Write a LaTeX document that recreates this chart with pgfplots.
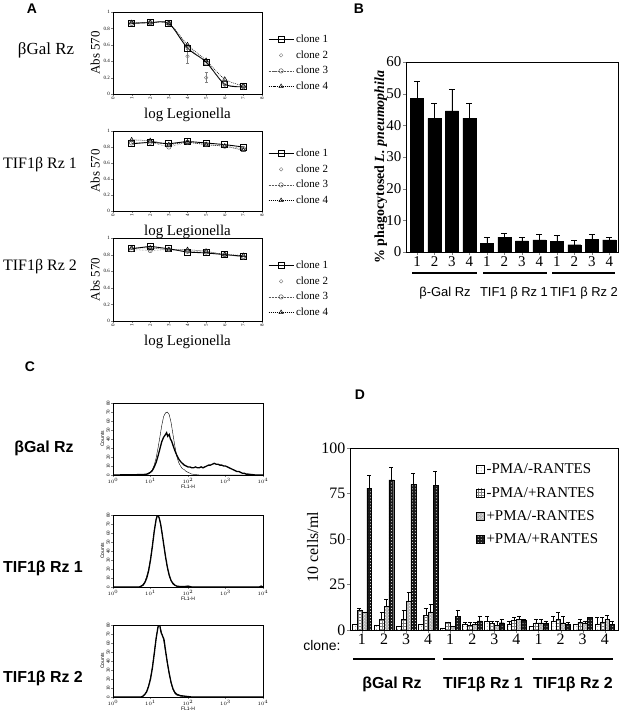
\documentclass[border=0pt]{standalone}
\usepackage{fontspec}
\setmainfont{Liberation Serif}
\setsansfont{Liberation Sans}
\usepackage{pgfplots}
\pgfplotsset{compat=1.18}
\usetikzlibrary{patterns}
\newcommand{\fs}[1]{\fontsize{#1}{#1}\selectfont}

\pgfplotsset{
 panelA/.style={
  scale only axis, width=149bp,
  xmin=0, xmax=8, ymin=0, ymax=1,
  xtick={0,1,2,3,4,5,6,7,8}, ytick={0,0.2,0.4,0.6,0.8,1},
  tick align=outside, xtick pos=bottom, ytick pos=left,
  major tick length=2bp,
  /pgf/number format/assume math mode=true,
  tick label style={font=\fs{5}},
  xticklabel style={rotate=90, anchor=east, inner sep=1bp},
  yticklabel style={/pgf/number format/fixed, inner sep=1bp},
  axis line style={line width=0.8bp},
  every axis x label/.style={at={(axis description cs:0.5,0)}, anchor=base, yshift=-24bp, font=\fs{15}},
  every axis y label/.style={at={(axis description cs:0,0.5)}, rotate=90, anchor=base, yshift=13.5bp, font=\fs{13}},
  xlabel={log Legionella}, ylabel={Abs 570},
  legend style={draw=none, fill=none, font=\fs{11}, inner sep=0pt, row sep=2.5bp, cells={anchor=west}},
  legend image code/.code={\draw[mark repeat=2,mark phase=2,##1] plot coordinates {(0bp,0bp) (12.5bp,0bp) (25bp,0bp)};},
  error bars/y dir=both, error bars/y explicit,
  error bars/error mark options={rotate=90, mark size=1.5bp, line width=0.5bp},
 },
 cA/.style={black, line width=0.9bp, mark=square, mark size=3bp, mark options={solid, fill=white}},
 cB/.style={only marks, gray, mark=o, mark size=1.8bp, mark options={solid}},
 cC/.style={gray!70!black, densely dotted, line width=0.5bp, mark=o, mark size=2.2bp, mark options={solid, fill=white}},
 cD/.style={black, dash pattern=on 1bp off 1bp, line width=0.5bp, mark=triangle, mark size=2.5bp, mark options={solid, fill=white}},
 panelC/.style={
  scale only axis, width=150bp, height=72bp,
  xmin=0, xmax=4, ymin=0, ymax=80,
  xtick={0,1,2,3,4}, xticklabels={$10^0$,$10^1$,$10^2$,$10^3$,$10^4$},
  minor xtick={0.301,0.477,0.602,0.699,0.778,0.845,0.903,0.954,1.301,1.477,1.602,1.699,1.778,1.845,1.903,1.954,2.301,2.477,2.602,2.699,2.778,2.845,2.903,2.954,3.301,3.477,3.602,3.699,3.778,3.845,3.903,3.954},
  ytick={0,10,20,30,40,50,60,70,80},
  tick align=outside, xtick pos=bottom, ytick pos=left,
  major tick length=2bp, minor tick length=1bp,
  /pgf/number format/assume math mode=true,
  tick label style={font=\fs{5}, inner sep=1bp},
  yticklabel style={rotate=90, anchor=south},
  axis line style={line width=0.6bp},
  xlabel={FL1-H}, ylabel={Counts},
  every axis x label/.style={at={(axis description cs:0.5,0)}, anchor=north, yshift=-7bp, font=\sffamily\fs{5}},
  every axis y label/.style={at={(axis description cs:0,0.5)}, rotate=90, anchor=base, yshift=9bp, font=\sffamily\fs{5}},
 },
 thick hist/.style={black, line width=1.3bp},
 thin hist/.style={black, line width=0.4bp},
}

\begin{document}
\begin{tikzpicture}
\path[use as bounding box] (0bp,0bp) rectangle (624bp,-719bp);

% ---------------- Panel A ----------------
\node[font=\sffamily\bfseries\fs{14}] at (32bp,-9bp) {A};
\node[font=\fs{17}] at (46bp,-50bp) {βGal Rz};
\node[font=\fs{16}] at (40bp,-165bp) {TIF1β Rz 1};
\node[font=\fs{16}] at (40bp,-267bp) {TIF1β Rz 2};

\begin{axis}[panelA, at={(113bp,-12bp)}, anchor=north west, height=82bp,
  legend style={at={(1.04,0.744)}, anchor=north west}]
\addplot+[cA, smooth] coordinates {(1,0.86) (2,0.87) (3,0.86) (4,0.56) (5,0.39) (6,0.12) (7,0.09)};
\addplot+[cB, error bars/.cd, y dir=both, y explicit] coordinates {(1,0.88) +- (0,0) (2,0.88) +- (0,0) (3,0.87) +- (0,0) (4,0.46) +- (0,0.08) (5,0.20) +- (0,0.06) (6,0.11) +- (0,0) (7,0.08) +- (0,0)};
\addplot+[cC, smooth] coordinates {(1,0.86) (2,0.87) (3,0.86) (4,0.58) (5,0.38) (6,0.13) (7,0.09)};
\addplot+[cD, smooth] coordinates {(1,0.87) (2,0.87) (3,0.86) (4,0.60) (5,0.41) (6,0.18) (7,0.10)};
\legend{clone 1, clone 2, clone 3, clone 4}
\end{axis}

\begin{axis}[panelA, at={(113bp,-131bp)}, anchor=north west, height=80bp,
  legend style={at={(1.04,0.80)}, anchor=north west}]
\addplot+[cA] coordinates {(1,0.84) (2,0.86) (3,0.84) (4,0.87) (5,0.85) (6,0.83) (7,0.80)};
\addplot+[cB] coordinates {(1,0.88) (2,0.87) (3,0.82) (4,0.87) (5,0.84) (6,0.82) (7,0.77)};
\addplot+[cC] coordinates {(1,0.85) (2,0.86) (3,0.80) (4,0.86) (5,0.83) (6,0.81) (7,0.78)};
\addplot+[cD] coordinates {(1,0.89) (2,0.88) (3,0.83) (4,0.86) (5,0.83) (6,0.81) (7,0.76)};
\legend{clone 1, clone 2, clone 3, clone 4}
\end{axis}

\begin{axis}[panelA, at={(113bp,-238bp)}, anchor=north west, height=83bp,
  legend style={at={(1.04,0.747)}, anchor=north west}]
\addplot+[cA] coordinates {(1,0.87) (2,0.90) (3,0.87) (4,0.83) (5,0.82) (6,0.80) (7,0.78)};
\addplot+[cB] coordinates {(1,0.88) (2,0.86) (3,0.86) (4,0.85) (5,0.85) (6,0.80) (7,0.77)};
\addplot+[cC] coordinates {(1,0.86) (2,0.85) (3,0.86) (4,0.84) (5,0.83) (6,0.80) (7,0.77)};
\addplot+[cD] coordinates {(1,0.88) (2,0.88) (3,0.86) (4,0.86) (5,0.84) (6,0.80) (7,0.79)};
\legend{clone 1, clone 2, clone 3, clone 4}
\end{axis}

% ---------------- Panel B ----------------
\node[font=\sffamily\bfseries\fs{14}] at (359bp,-9bp) {B};
\begin{axis}[at={(406bp,-252bp)}, anchor=south west, scale only axis,
  width=212bp, height=190bp,
  xmin=0.37, xmax=12.5, ymin=0, ymax=60,
  ytick={0,10,20,30,40,50,60},
  xtick={1,2,3,4,5,6,7,8,9,10,11,12},
  xticklabels={1,2,3,4,1,2,3,4,1,2,3,4},
  tick align=outside, xtick pos=bottom, ytick pos=left,
  major tick length=3bp,
  /pgf/number format/assume math mode=true,
  tick label style={font=\fs{15}},
  xticklabel style={inner sep=1.5bp},
  yticklabel style={inner sep=1.5bp},
  axis line style={line width=0.9bp},
  ylabel={\% phagocytosed \textit{L. pneumophila}},
  every axis y label/.style={at={(axis description cs:0,0.447)}, rotate=90, anchor=base, yshift=22bp, font=\bfseries\fs{14}},
  ybar, bar width=0.75,
]
\addplot[fill=black, draw=black,
  error bars/.cd, y dir=plus, y explicit,
  error mark options={rotate=90, mark size=3bp, line width=0.7bp, black}]
 coordinates {(1,48.5) +- (0,5.5) (2,42.2) +- (0,4.8) (3,44.6) +- (0,6.9) (4,42.3) +- (0,4.8)
  (5,2.7) +- (0,1.8) (6,4.7) +- (0,1.3) (7,3.5) +- (0,1.2) (8,3.8) +- (0,1.9)
  (9,3.4) +- (0,1.8) (10,2.3) +- (0,1.4) (11,4.0) +- (0,1.6) (12,3.8) +- (0,0.7)};
\end{axis}
\draw[line width=1.2bp] (412bp,-273bp) -- (477bp,-273bp);
\draw[line width=1.2bp] (483bp,-273bp) -- (547bp,-273bp);
\draw[line width=1.2bp] (552bp,-273bp) -- (615bp,-273bp);
\node[font=\sffamily\fs{13}] at (445bp,-293bp) {β-Gal Rz};
\node[font=\sffamily\fs{13}] at (514bp,-293bp) {TIF1 β Rz 1};
\node[font=\sffamily\fs{13}] at (584bp,-293bp) {TIF1 β Rz 2};

% ---------------- Panel C ----------------
\node[font=\sffamily\bfseries\fs{14}] at (30bp,-367bp) {C};
\node[font=\sffamily\bfseries\fs{16}] at (44bp,-448bp) {βGal Rz};
\node[font=\sffamily\bfseries\fs{16}] at (43bp,-568bp) {TIF1β Rz 1};
\node[font=\sffamily\bfseries\fs{16}] at (43bp,-678bp) {TIF1β Rz 2};

\begin{axis}[panelC, at={(113bp,-475bp)}, anchor=south west]
\addplot[thin hist] coordinates {(0,0) (0.8,0) (0.95,1) (1.0,3) (1.05,6) (1.1,11) (1.15,19) (1.2,30) (1.25,42) (1.3,55) (1.35,65) (1.4,69) (1.45,70) (1.5,67) (1.55,58) (1.6,45) (1.65,32) (1.7,21) (1.75,14) (1.8,10) (1.85,7) (1.9,6) (1.95,4) (2.0,3) (2.05,2) (2.1,1) (2.2,0.5) (2.3,0) (4,0)};
\addplot[thick hist] coordinates {(0,0) (0.8,0.5) (0.9,1) (1.0,3) (1.05,5) (1.1,9) (1.15,14) (1.2,21) (1.25,29) (1.3,37) (1.35,42) (1.4,45) (1.43,47) (1.46,43) (1.5,45) (1.53,40) (1.56,38) (1.6,33) (1.65,27) (1.7,22) (1.75,18) (1.8,15) (1.85,13) (1.9,11) (1.95,10) (2.0,9) (2.05,9) (2.1,8) (2.15,8) (2.2,9) (2.25,8) (2.3,8) (2.35,9) (2.4,8) (2.45,9) (2.5,10) (2.55,11) (2.6,11) (2.65,12) (2.7,13) (2.75,12) (2.8,12) (2.85,11) (2.9,11) (2.95,10) (3.0,10) (3.05,9) (3.1,8) (3.15,7) (3.2,6) (3.25,5) (3.3,4) (3.35,4) (3.4,3) (3.45,2) (3.5,2) (3.55,1) (3.6,1) (3.7,0.5) (3.8,0) (4,0)};
\end{axis}

\begin{axis}[panelC, at={(113bp,-587bp)}, anchor=south west]
\addplot[thin hist] coordinates {(0,0) (0.7,0) (0.75,1) (0.8,3) (0.85,6) (0.9,12) (0.95,20) (1.0,32) (1.05,47) (1.1,63) (1.15,76) (1.18,80) (1.21,79) (1.25,74) (1.3,63) (1.35,48) (1.4,33) (1.45,21) (1.5,12) (1.55,7) (1.6,3) (1.7,1) (1.8,0) (4,0)};
\addplot[thick hist] coordinates {(0,0) (0.7,0) (0.75,1) (0.8,2) (0.85,5) (0.9,10) (0.95,18) (1.0,30) (1.05,45) (1.1,62) (1.15,75) (1.18,79) (1.2,80) (1.23,77) (1.27,70) (1.3,62) (1.35,48) (1.4,34) (1.45,22) (1.5,13) (1.55,7) (1.6,4) (1.65,2) (1.7,1) (1.8,0.5) (1.9,0.5) (2.0,1) (2.05,0.5) (2.1,0) (3.9,0) (3.95,1) (4,0)};
\end{axis}

\begin{axis}[panelC, at={(113bp,-697bp)}, anchor=south west]
\addplot[thin hist] coordinates {(0,0) (0.75,0) (0.8,1) (0.85,3) (0.9,7) (0.95,13) (1.0,22) (1.05,34) (1.1,50) (1.15,66) (1.2,77) (1.23,80) (1.26,78) (1.3,71) (1.35,63) (1.4,50) (1.45,37) (1.5,25) (1.55,15) (1.6,8) (1.65,4) (1.7,2) (1.8,1) (1.9,0) (4,0)};
\addplot[thick hist] coordinates {(0,0) (0.75,0) (0.8,1) (0.85,3) (0.9,6) (0.95,12) (1.0,20) (1.05,32) (1.1,48) (1.15,65) (1.2,78) (1.22,80) (1.25,79) (1.28,72) (1.32,68) (1.36,64) (1.4,52) (1.45,38) (1.5,26) (1.55,16) (1.6,9) (1.65,5) (1.7,3) (1.8,1.5) (1.9,1) (2.0,0.5) (2.1,0) (4,0)};
\end{axis}

% ---------------- Panel D ----------------
\node[font=\sffamily\bfseries\fs{14}] at (360bp,-395bp) {D};
\begin{axis}[at={(350bp,-630bp)}, anchor=south west, scale only axis,
  width=268bp, height=182bp,
  xmin=0.46, xmax=12.6, ymin=0, ymax=100,
  ytick={0,25,50,75,100},
  xtick={1,2,3,4,5,6,7,8,9,10,11,12},
  xticklabels={1,2,3,4,1,2,3,4,1,2,3,4},
  tick align=outside, xtick pos=bottom, ytick pos=left,
  major tick length=3bp,
  /pgf/number format/assume math mode=true,
  tick label style={font=\fs{16}},
  xticklabel style={inner sep=1bp},
  yticklabel style={inner sep=1.5bp},
  axis line style={line width=0.9bp},
  ylabel={10 cells/ml},
  every axis y label/.style={at={(axis description cs:0,0.456)}, rotate=90, anchor=base, yshift=32bp, font=\fs{16}},
  ybar=0pt, bar width=0.22,
  legend style={at={(0.47,0.925)}, anchor=north west, draw=none, fill=none, font=\fs{15}, row sep=8bp, inner sep=0pt, cells={anchor=west}},
  legend image code/.code={\draw[#1] (0bp,-4bp) rectangle (8bp,4bp);},
  error bars/y dir=plus, error bars/y explicit,
  error bars/error mark options={rotate=90, mark size=2bp, line width=0.5bp, black},
]
\addplot[draw=black, line width=0.4bp, fill=white, postaction={pattern=dots, pattern color=gray}]
 coordinates {(1,3) +- (0,0) (2,2.5) +- (0,0) (3,2) +- (0,0) (4,3) +- (0,0)
  (5,1) +- (0,0) (6,3) +- (0,1) (7,5) +- (0,2.5) (8,3) +- (0,2)
  (9,2) +- (0,0) (10,5) +- (0,2.5) (11,3) +- (0,0) (12,3) +- (0,4)};
\addplot[draw=black, line width=0.4bp, fill=white, postaction={pattern=grid, pattern color=gray}]
 coordinates {(1,11) +- (0,1) (2,6) +- (0,4) (3,6) +- (0,5) (4,8) +- (0,4)
  (5,4.5) +- (0,0) (6,2.5) +- (0,1.5) (7,3.5) +- (0,1.5) (8,5.5) +- (0,1.5)
  (9,4) +- (0,2) (10,6) +- (0,4) (11,4.5) +- (0,1.5) (12,4.5) +- (0,2.5)};
\addplot[draw=black, line width=0.4bp, fill=gray!60, postaction={pattern=crosshatch dots, pattern color=white}]
 coordinates {(1,10) +- (0,0) (2,13) +- (0,4) (3,16) +- (0,5) (4,10) +- (0,4)
  (5,2) +- (0,0) (6,3) +- (0,1.5) (7,2.5) +- (0,2.5) (8,6) +- (0,1.5)
  (9,4) +- (0,2) (10,4) +- (0,3.5) (11,4) +- (0,1) (12,6) +- (0,2)};
\addplot[draw=black, line width=0.4bp, fill=black!90, postaction={pattern=dots, pattern color=white}]
 coordinates {(1,78) +- (0,7) (2,82.5) +- (0,7) (3,80) +- (0,6) (4,79.5) +- (0,7.5)
  (5,7.5) +- (0,3.5) (6,5) +- (0,2.5) (7,4) +- (0,2) (8,5.5) +- (0,0.5)
  (9,3.5) +- (0,1.5) (10,3) +- (0,1) (11,7) +- (0,0) (12,3) +- (0,2)};
\legend{-PMA/-RANTES, -PMA/+RANTES, +PMA/-RANTES, +PMA/+RANTES}
\end{axis}
\node[font=\sffamily\fs{14}] at (322bp,-646bp) {clone:};
\draw[line width=1.2bp] (353bp,-659bp) -- (435bp,-659bp);
\draw[line width=1.2bp] (443bp,-659bp) -- (524bp,-659bp);
\draw[line width=1.2bp] (532bp,-659bp) -- (613bp,-659bp);
\node[font=\sffamily\bfseries\fs{16}] at (392bp,-684bp) {βGal Rz};
\node[font=\sffamily\bfseries\fs{16}] at (483bp,-684bp) {TIF1β Rz 1};
\node[font=\sffamily\bfseries\fs{16}] at (573bp,-684bp) {TIF1β Rz 2};
\end{tikzpicture}
\end{document}
